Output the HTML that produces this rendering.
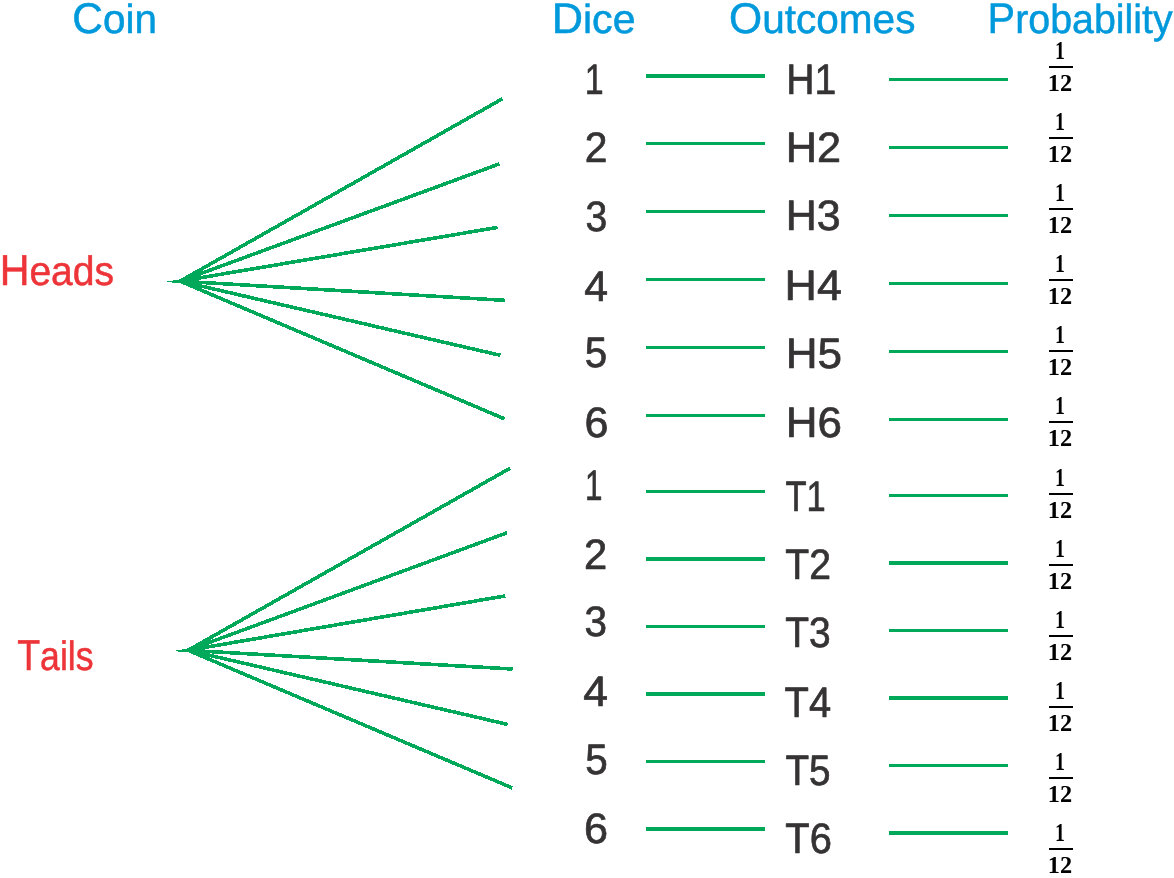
<!DOCTYPE html>
<html><head><meta charset="utf-8"><style>
html,body{margin:0;padding:0;background:#fff;width:1174px;height:878px;overflow:hidden}
svg{display:block;will-change:transform}
text{text-rendering:geometricPrecision}
.h{font-family:"Liberation Sans",sans-serif;font-weight:normal;fill:#0099DC;stroke:#0099DC;stroke-width:0.5px;stroke-linejoin:round}
.r{font-family:"Liberation Sans",sans-serif;font-weight:normal;fill:#ED3438;stroke:#ED3438;stroke-width:0.5px;stroke-linejoin:round}
.d{font-family:"Liberation Sans",sans-serif;font-weight:normal;fill:#353334;stroke:#353334;stroke-width:0.7px;stroke-linejoin:round}
.f{font-family:"Liberation Serif",serif;font-weight:bold;fill:#000;stroke:#000;stroke-width:0px;stroke-linejoin:round}
</style></head><body>
<svg width="1174" height="878" viewBox="0 0 1174 878">
<g fill="none" stroke="#00A859" stroke-width="3.6" stroke-linejoin="miter" stroke-miterlimit="10" shape-rendering="crispEdges">
<path d="M502.35 98.79L180 281.2L504.49 418.83"/>
<path d="M499.57 163.81L180 281.2L500.43 355.33"/>
<path d="M497.52 227.4L180 281.2L504.7 300.33"/>
<path d="M509.95 468.29L188 650.3L512.29 787.93"/>
<path d="M507.17 532.71L188 650.3L507.73 724.43"/>
<path d="M505.32 595.9L188 650.3L512.6 669.03"/>
</g>
<rect x="646" y="74.00" width="119" height="4" fill="#00A859"/>
<rect x="646" y="142.00" width="119" height="3" fill="#00A859"/>
<rect x="646" y="210.00" width="119" height="3" fill="#00A859"/>
<rect x="646" y="278.00" width="119" height="3" fill="#00A859"/>
<rect x="646" y="346.00" width="119" height="3" fill="#00A859"/>
<rect x="646" y="414.00" width="119" height="3" fill="#00A859"/>
<rect x="646" y="490.00" width="119" height="3" fill="#00A859"/>
<rect x="646" y="557.00" width="119" height="4" fill="#00A859"/>
<rect x="646" y="625.00" width="119" height="3" fill="#00A859"/>
<rect x="646" y="692.00" width="119" height="4" fill="#00A859"/>
<rect x="646" y="760.00" width="119" height="3" fill="#00A859"/>
<rect x="646" y="827.00" width="119" height="4" fill="#00A859"/>
<rect x="889" y="78.00" width="119" height="3" fill="#00A859"/>
<rect x="889" y="146.00" width="119" height="3" fill="#00A859"/>
<rect x="889" y="214.00" width="119" height="3" fill="#00A859"/>
<rect x="889" y="282.00" width="119" height="3" fill="#00A859"/>
<rect x="889" y="350.00" width="119" height="3" fill="#00A859"/>
<rect x="889" y="418.00" width="119" height="3" fill="#00A859"/>
<rect x="889" y="494.00" width="119" height="3" fill="#00A859"/>
<rect x="889" y="561.00" width="119" height="4" fill="#00A859"/>
<rect x="889" y="629.00" width="119" height="3" fill="#00A859"/>
<rect x="889" y="696.00" width="119" height="4" fill="#00A859"/>
<rect x="889" y="764.00" width="119" height="3" fill="#00A859"/>
<rect x="889" y="831.00" width="119" height="4" fill="#00A859"/>
<rect x="1049" y="66.00" width="24" height="2" fill="#000"/>
<rect x="1049" y="137.00" width="24" height="2" fill="#000"/>
<rect x="1049" y="208.00" width="24" height="2" fill="#000"/>
<rect x="1049" y="279.00" width="24" height="2" fill="#000"/>
<rect x="1049" y="350.00" width="24" height="2" fill="#000"/>
<rect x="1049" y="421.00" width="24" height="2" fill="#000"/>
<rect x="1049" y="493.00" width="24" height="2" fill="#000"/>
<rect x="1049" y="564.00" width="24" height="2" fill="#000"/>
<rect x="1049" y="635.00" width="24" height="2" fill="#000"/>
<rect x="1049" y="706.00" width="24" height="2" fill="#000"/>
<rect x="1049" y="777.00" width="24" height="2" fill="#000"/>
<rect x="1049" y="848.00" width="24" height="2" fill="#000"/>
<text x="72.13" y="33.00" font-size="42.93" textLength="84.78" lengthAdjust="spacingAndGlyphs" class="h">C<tspan font-size="40.79">oin</tspan></text>
<text x="551.67" y="33.00" font-size="42.93" textLength="83.88" lengthAdjust="spacingAndGlyphs" class="h">D<tspan font-size="40.79">ice</tspan></text>
<text x="729.06" y="33.00" font-size="42.93" textLength="186.34" lengthAdjust="spacingAndGlyphs" class="h">O<tspan font-size="40.79">utcomes</tspan></text>
<text x="987.60" y="33.00" font-size="42.93" textLength="185.10" lengthAdjust="spacingAndGlyphs" class="h">P<tspan font-size="40.79">robability</tspan></text>
<text x="-0.34" y="285.07" font-size="43.26" textLength="114.50" lengthAdjust="spacingAndGlyphs" class="r">H<tspan font-size="41.09">eads</tspan></text>
<text x="17.20" y="670.15" font-size="43.26" textLength="76.33" lengthAdjust="spacingAndGlyphs" class="r">T<tspan font-size="41.09">ails</tspan></text>
<text x="584.67" y="94.01" font-size="42.59" textLength="18.87" lengthAdjust="spacingAndGlyphs" class="d">1</text>
<text x="786.21" y="94.01" font-size="42.59" textLength="49.97" lengthAdjust="spacingAndGlyphs" class="d">H1</text>
<text x="584.81" y="162.41" font-size="42.59" textLength="22.69" lengthAdjust="spacingAndGlyphs" class="d">2</text>
<text x="785.77" y="161.81" font-size="42.59" textLength="55.31" lengthAdjust="spacingAndGlyphs" class="d">H2</text>
<text x="585.41" y="230.81" font-size="42.59" textLength="21.80" lengthAdjust="spacingAndGlyphs" class="d">3</text>
<text x="785.85" y="230.25" font-size="42.59" textLength="54.89" lengthAdjust="spacingAndGlyphs" class="d">H3</text>
<text x="584.37" y="300.51" font-size="42.59" textLength="23.78" lengthAdjust="spacingAndGlyphs" class="d">4</text>
<text x="784.59" y="299.81" font-size="42.59" textLength="57.28" lengthAdjust="spacingAndGlyphs" class="d">H4</text>
<text x="584.85" y="366.97" font-size="42.59" textLength="22.44" lengthAdjust="spacingAndGlyphs" class="d">5</text>
<text x="785.72" y="367.79" font-size="42.59" textLength="56.28" lengthAdjust="spacingAndGlyphs" class="d">H5</text>
<text x="584.41" y="436.54" font-size="42.59" textLength="24.01" lengthAdjust="spacingAndGlyphs" class="d">6</text>
<text x="785.68" y="436.53" font-size="42.59" textLength="56.17" lengthAdjust="spacingAndGlyphs" class="d">H6</text>
<text x="584.93" y="499.61" font-size="42.59" textLength="17.46" lengthAdjust="spacingAndGlyphs" class="d">1</text>
<text x="785.39" y="510.81" font-size="42.59" textLength="40.27" lengthAdjust="spacingAndGlyphs" class="d">T1</text>
<text x="583.98" y="568.71" font-size="42.59" textLength="23.22" lengthAdjust="spacingAndGlyphs" class="d">2</text>
<text x="785.28" y="579.21" font-size="42.59" textLength="45.68" lengthAdjust="spacingAndGlyphs" class="d">T2</text>
<text x="584.41" y="635.54" font-size="42.59" textLength="22.54" lengthAdjust="spacingAndGlyphs" class="d">3</text>
<text x="785.29" y="647.39" font-size="42.59" textLength="45.50" lengthAdjust="spacingAndGlyphs" class="d">T3</text>
<text x="583.24" y="705.61" font-size="42.59" textLength="24.72" lengthAdjust="spacingAndGlyphs" class="d">4</text>
<text x="784.60" y="716.81" font-size="42.59" textLength="46.55" lengthAdjust="spacingAndGlyphs" class="d">T4</text>
<text x="585.16" y="773.91" font-size="42.59" textLength="22.48" lengthAdjust="spacingAndGlyphs" class="d">5</text>
<text x="785.47" y="784.74" font-size="42.59" textLength="45.16" lengthAdjust="spacingAndGlyphs" class="d">T5</text>
<text x="583.98" y="842.73" font-size="42.59" textLength="24.05" lengthAdjust="spacingAndGlyphs" class="d">6</text>
<text x="785.34" y="852.92" font-size="42.59" textLength="46.54" lengthAdjust="spacingAndGlyphs" class="d">T6</text>
<text x="1055.11" y="59.40" font-size="25.80" textLength="9.92" lengthAdjust="spacingAndGlyphs" class="f">1</text>
<text x="1047.85" y="91.40" font-size="24.37" textLength="24.30" lengthAdjust="spacingAndGlyphs" class="f">12</text>
<text x="1055.11" y="130.30" font-size="25.80" textLength="9.92" lengthAdjust="spacingAndGlyphs" class="f">1</text>
<text x="1047.85" y="162.30" font-size="24.37" textLength="24.30" lengthAdjust="spacingAndGlyphs" class="f">12</text>
<text x="1055.11" y="201.30" font-size="25.80" textLength="9.92" lengthAdjust="spacingAndGlyphs" class="f">1</text>
<text x="1047.85" y="233.30" font-size="24.37" textLength="24.30" lengthAdjust="spacingAndGlyphs" class="f">12</text>
<text x="1055.11" y="272.20" font-size="25.80" textLength="9.92" lengthAdjust="spacingAndGlyphs" class="f">1</text>
<text x="1047.85" y="304.20" font-size="24.37" textLength="24.30" lengthAdjust="spacingAndGlyphs" class="f">12</text>
<text x="1055.11" y="342.70" font-size="25.80" textLength="9.92" lengthAdjust="spacingAndGlyphs" class="f">1</text>
<text x="1047.85" y="374.70" font-size="24.37" textLength="24.30" lengthAdjust="spacingAndGlyphs" class="f">12</text>
<text x="1055.11" y="414.40" font-size="25.80" textLength="9.92" lengthAdjust="spacingAndGlyphs" class="f">1</text>
<text x="1047.85" y="446.40" font-size="24.37" textLength="24.30" lengthAdjust="spacingAndGlyphs" class="f">12</text>
<text x="1055.11" y="485.80" font-size="25.80" textLength="9.92" lengthAdjust="spacingAndGlyphs" class="f">1</text>
<text x="1047.85" y="517.80" font-size="24.37" textLength="24.30" lengthAdjust="spacingAndGlyphs" class="f">12</text>
<text x="1055.11" y="556.50" font-size="25.80" textLength="9.92" lengthAdjust="spacingAndGlyphs" class="f">1</text>
<text x="1047.85" y="588.50" font-size="24.37" textLength="24.30" lengthAdjust="spacingAndGlyphs" class="f">12</text>
<text x="1055.11" y="628.00" font-size="25.80" textLength="9.92" lengthAdjust="spacingAndGlyphs" class="f">1</text>
<text x="1047.85" y="660.00" font-size="24.37" textLength="24.30" lengthAdjust="spacingAndGlyphs" class="f">12</text>
<text x="1055.11" y="698.80" font-size="25.80" textLength="9.92" lengthAdjust="spacingAndGlyphs" class="f">1</text>
<text x="1047.85" y="730.80" font-size="24.37" textLength="24.30" lengthAdjust="spacingAndGlyphs" class="f">12</text>
<text x="1055.11" y="769.50" font-size="25.80" textLength="9.92" lengthAdjust="spacingAndGlyphs" class="f">1</text>
<text x="1047.85" y="801.50" font-size="24.37" textLength="24.30" lengthAdjust="spacingAndGlyphs" class="f">12</text>
<text x="1055.11" y="841.00" font-size="25.80" textLength="9.92" lengthAdjust="spacingAndGlyphs" class="f">1</text>
<text x="1047.85" y="873.00" font-size="24.37" textLength="24.30" lengthAdjust="spacingAndGlyphs" class="f">12</text>
</svg>
</body></html>
